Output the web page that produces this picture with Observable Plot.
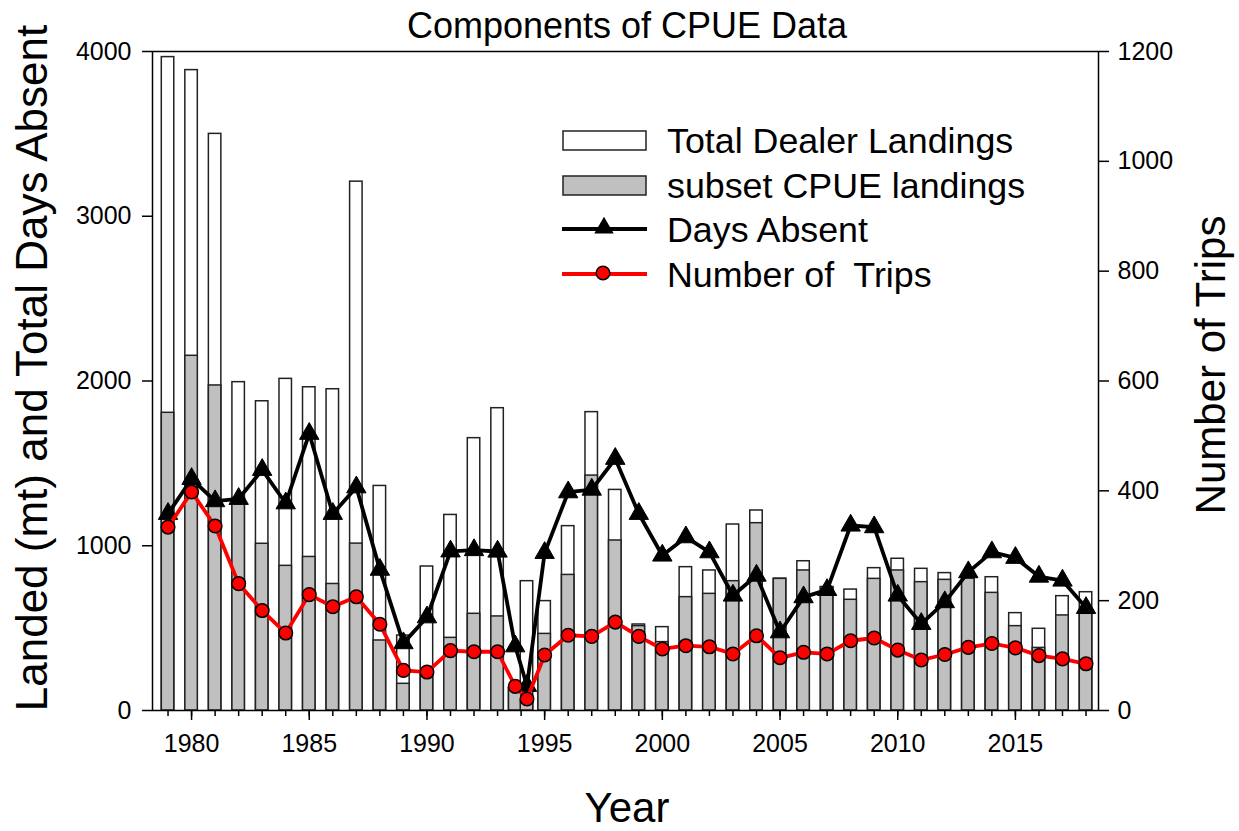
<!DOCTYPE html>
<html><head><meta charset="utf-8">
<script src="https://cdn.jsdelivr.net/npm/d3@7"></script>
<script src="https://cdn.jsdelivr.net/npm/@observablehq/plot@0.6"></script>
<style>
html,body{margin:0;padding:0;background:#fff;}
#chart{width:1239px;height:831px;}
svg{font-family:"Liberation Sans", Arial, sans-serif;}
</style></head><body><div id="chart"></div>
<script>
const years = [1979,1980,1981,1982,1983,1984,1985,1986,1987,1988,1989,1990,1991,1992,1993,1993.75,1994.25,1995,1996,1997,1998,1999,2000,2001,2002,2003,2004,2005,2006,2007,2008,2009,2010,2011,2012,2013,2014,2015,2016,2017,2018];
const totalLandings = [3966,3887,3500,1993,1877,2013,1962,1950,3210,1363,455,874,1187,1653,1835,135,785,664,1119,1811,1339,522,506,870,850,1129,1214,800,906,749,734,864,921,860,834,810,809,591,496,694,718];
const subsetLandings = [1807,2153,1973,1290,1012,878,932,768,1013,425,162,215,441,587,571,135,60,465,823,1426,1032,512,415,688,708,785,1137,799,850,749,672,799,850,779,793,800,714,512,380,577,587];
const daysAbsent = [1194,1406,1271,1285,1461,1258,1680,1194,1355,855,409,566,966,974,965,390,150,957,1325,1341,1528,1194,941,1052,961,698,819,475,688,732,1123,1113,698,526,658,840,961,927,813,789,623];
const numTrips = [334,398,336,231,182,141,211,189,207,157,73,70,109,107,107,44,21,101,137,135,161,135,112,118,116,103,136,96,106,103,127,132,110,92,102,115,122,114,100,94,85];
const yearTicks = [1980,1985,1990,1995,2000,2005,2010,2015];
const minorYearTicks = d3.range(1979, 2019);
const leftTicks = [0,1000,2000,3000,4000];
const rightTicks = [0,200,400,600,800,1000,1200];
const RATIO = 4000/1200;

const data = years.map((year,i)=>({year, total: totalLandings[i], subset: subsetLandings[i], days: daysAbsent[i], trips: numTrips[i]}));
const halfW = 0.265;
const TRI_R = 7.2;

const chart = Plot.plot({
  width:1239, height:831,
  marginLeft:152, marginRight:141, marginTop:51, marginBottom:121,
  x:{domain:[1978.34,2018.53]},
  y:{domain:[0,4000]},
  style:{fontFamily:'"Liberation Sans", Arial, sans-serif', fontSize:"25px", color:"black", background:"white", overflow:"visible"},
  marks:[
    Plot.rect(data,{x1:d=>d.year-halfW, x2:d=>d.year+halfW, y1:d=>0, y2:"total", fill:"white", stroke:"#222", strokeWidth:1.5}),
    Plot.rect(data,{x1:d=>d.year-halfW, x2:d=>d.year+halfW, y1:d=>0, y2:"subset", fill:"#c0c0c0", stroke:"#222", strokeWidth:1.5}),
    Plot.line(data,{x:"year", y:"days", stroke:"black", strokeWidth:3.8}),
    Plot.dot(data,{x:"year", y:"days", symbol:"triangle", fill:"black", stroke:"black", strokeWidth:1, r:TRI_R}),
    Plot.line(data,{x:"year", y:d=>d.trips*RATIO, stroke:"red", strokeWidth:3.8}),
    Plot.dot(data,{x:"year", y:d=>d.trips*RATIO, fill:"red", stroke:"black", strokeWidth:1.5, r:6.8}),
    Plot.frame({stroke:"black", strokeWidth:1.5}),
    Plot.axisX(minorYearTicks,{tickSize:6, tickFormat:()=>"", label:null, strokeWidth:1.5}),
    Plot.axisX(yearTicks,{tickSize:10, tickPadding:14, tickFormat:d3.format("d"), label:null, fontSize:25, strokeWidth:1.5}),
    Plot.axisY(leftTicks,{anchor:"left", tickSize:10, tickPadding:11, tickFormat:d3.format("d"), label:null, fontSize:25, strokeWidth:1.5}),
    Plot.axisY(rightTicks.map(v=>v*RATIO),{anchor:"right", tickSize:10, tickPadding:9, tickFormat:d=>String(Math.round(d/RATIO)), label:null, fontSize:25, strokeWidth:1.5})
  ]
});
document.getElementById("chart").appendChild(chart);

const svg = d3.select(chart);
const addText = (txt, x, y, size, anchor, rotate) => {
  const t = svg.append("text").text(txt)
    .attr("font-size", size).attr("text-anchor", anchor).attr("fill", "black")
    .style("white-space", "pre");
  if (rotate) t.attr("transform", `translate(${x},${y}) rotate(-90)`);
  else t.attr("x", x).attr("y", y);
  return t;
};
addText("Components of CPUE Data", 627, 38, 36, "middle");
addText("Year", 627, 822, 42, "middle");
addText("Landed (mt) and Total Days Absent", 47, 368, 44, "middle", true);
addText("Number of Trips", 1225, 365, 42, "middle", true);

// legend
const lg = svg.append("g");
lg.append("rect").attr("x",563).attr("y",131).attr("width",83).attr("height",19).attr("fill","white").attr("stroke","#222").attr("stroke-width",1.5);
lg.append("rect").attr("x",563).attr("y",176).attr("width",83).attr("height",19).attr("fill","#c0c0c0").attr("stroke","#222").attr("stroke-width",1.5);
lg.append("line").attr("x1",562).attr("x2",647).attr("y1",229).attr("y2",229).attr("stroke","black").attr("stroke-width",3.8);
lg.append("path").attr("d", d3.symbol(d3.symbolTriangle, Math.PI*TRI_R*TRI_R)()).attr("transform","translate(604,228)").attr("fill","black");
lg.append("line").attr("x1",562).attr("x2",647).attr("y1",274).attr("y2",274).attr("stroke","red").attr("stroke-width",3.8);
lg.append("circle").attr("cx",603).attr("cy",273).attr("r",6.8).attr("fill","red").attr("stroke","black").attr("stroke-width",1.5);
[["Total Dealer Landings",153],["subset CPUE landings",198],["Days Absent",242],["Number of  Trips",287]].forEach(([t,y])=>{
  lg.append("text").text(t).attr("x",667).attr("y",y).attr("font-size",35.8).attr("text-anchor","start").attr("fill","black").style("white-space","pre");
});
</script></body></html>
